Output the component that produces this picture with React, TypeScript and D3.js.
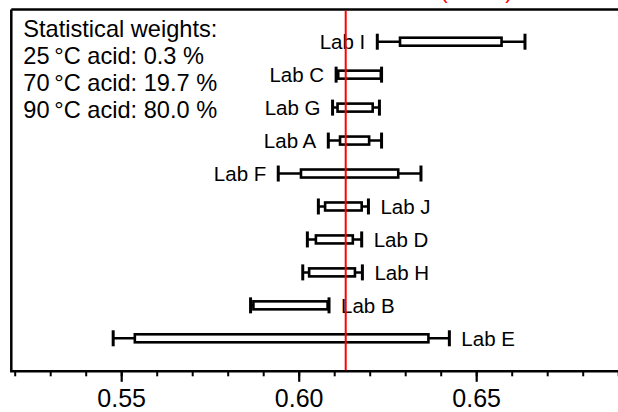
import React from "react";
import * as d3 from "d3";

const labs = ["Lab I", "Lab C", "Lab G", "Lab A", "Lab F", "Lab J", "Lab D", "Lab H", "Lab B", "Lab E"];
const whiskerLow = [0.622, 0.6104, 0.6094, 0.6082, 0.5941, 0.6054, 0.6023, 0.601, 0.5863, 0.5476];
const boxLow = [0.6284, 0.611, 0.6108, 0.6115, 0.6005, 0.6073, 0.6047, 0.6028, 0.5871, 0.5537];
const boxHigh = [0.657, 0.623, 0.6207, 0.6197, 0.6279, 0.6176, 0.6151, 0.6157, 0.608, 0.6364];
const whiskerHigh = [0.6636, 0.6232, 0.6226, 0.6232, 0.6343, 0.6195, 0.6176, 0.6178, 0.6084, 0.6423];
const labelLeft = [true, true, true, true, true, false, false, false, false, false];
const referenceValue = 0.6131;
const majorTicks = [0.55, 0.6, 0.65];
const majorTickLabels = ["0.55", "0.60", "0.65"];
const minorTicks = [0.52, 0.53, 0.54, 0.55, 0.56, 0.57, 0.58, 0.59, 0.6, 0.61, 0.62, 0.63, 0.64, 0.65, 0.66, 0.67, 0.68, 0.69];
const weightLines = [
  "Statistical weights:",
  "25\u2009°C acid: 0.3 %",
  "70\u2009°C acid: 19.7 %",
  "90\u2009°C acid: 80.0 %",
];
const titleText = "Reference value: 0.6131 (0.001)";

const W = 618;
const H = 412;
const FONT = "'Liberation Sans', Arial, Helvetica, sans-serif";

export default function App() {
  const x = d3.scaleLinear().domain([0.55, 0.65]).range([121.7, 476.7]);
  const y = d3.scaleLinear().domain([0, labs.length - 1]).range([41.7, 338.3]);
  const left = 11.3;
  const top = 9.5;
  const bottom = 371.3;
  const boxH = 8;
  const capH = 16;

  return (
    <svg
      width={W}
      height={H}
      viewBox={`0 0 ${W} ${H}`}
      style={{ position: "fixed", left: 0, top: 0, background: "#fff" }}
      fontFamily={FONT}
    >
      <rect x={0} y={0} width={W} height={H} fill="#fff" />
      {/* clipped red title */}
      <text x={513} y={-2.5} textAnchor="end" fill="#ff0000" fontSize={23}>
        {titleText}
      </text>
      {/* frame */}
      <line x1={left} x2={W + 5} y1={top} y2={top} stroke="#000" strokeWidth={2.5} />
      <line x1={left} x2={left} y1={top} y2={bottom} stroke="#000" strokeWidth={2.5} />
      <line x1={left - 1.2} x2={W + 5} y1={bottom} y2={bottom} stroke="#000" strokeWidth={2.5} />
      {/* ticks */}
      {minorTicks.map((t, i) => (
        <line key={"m" + i} x1={x(t)} x2={x(t)} y1={bottom} y2={bottom + 5} stroke="#000" strokeWidth={2} />
      ))}
      {majorTicks.map((t, i) => (
        <g key={"M" + i}>
          <line x1={x(t)} x2={x(t)} y1={bottom} y2={bottom + 10.5} stroke="#000" strokeWidth={2.2} />
          <text x={x(t)} y={407} textAnchor="middle" fontSize={25} fill="#000">
            {majorTickLabels[i]}
          </text>
        </g>
      ))}
      {/* weights text */}
      {weightLines.map((s, i) => (
        <text key={"w" + i} x={23.3} y={36.7 + i * 27.2} fontSize={23.6} fill="#000">
          {s}
        </text>
      ))}
      {/* bars */}
      {labs.map((lab, i) => {
        const cy = y(i);
        return (
          <g key={lab}>
            <line x1={x(whiskerLow[i])} x2={x(whiskerHigh[i])} y1={cy} y2={cy} stroke="#000" strokeWidth={2.5} />
            <line x1={x(whiskerLow[i])} x2={x(whiskerLow[i])} y1={cy - capH / 2} y2={cy + capH / 2} stroke="#000" strokeWidth={3} />
            <line x1={x(whiskerHigh[i])} x2={x(whiskerHigh[i])} y1={cy - capH / 2} y2={cy + capH / 2} stroke="#000" strokeWidth={3} />
            <rect
              x={x(boxLow[i])}
              y={cy - boxH / 2}
              width={x(boxHigh[i]) - x(boxLow[i])}
              height={boxH}
              fill="#fff"
              stroke="#000"
              strokeWidth={2.6}
            />
            <text
              x={labelLeft[i] ? x(whiskerLow[i]) - 12 : x(whiskerHigh[i]) + 12}
              y={cy}
              dy="0.36em"
              textAnchor={labelLeft[i] ? "end" : "start"}
              fontSize={20.5}
              fill="#000"
            >
              {lab}
            </text>
          </g>
        );
      })}
      {/* reference line */}
      <line x1={x(referenceValue)} x2={x(referenceValue)} y1={top + 1} y2={bottom - 1} stroke="#ff0000" strokeWidth={2} />
    </svg>
  );
}
